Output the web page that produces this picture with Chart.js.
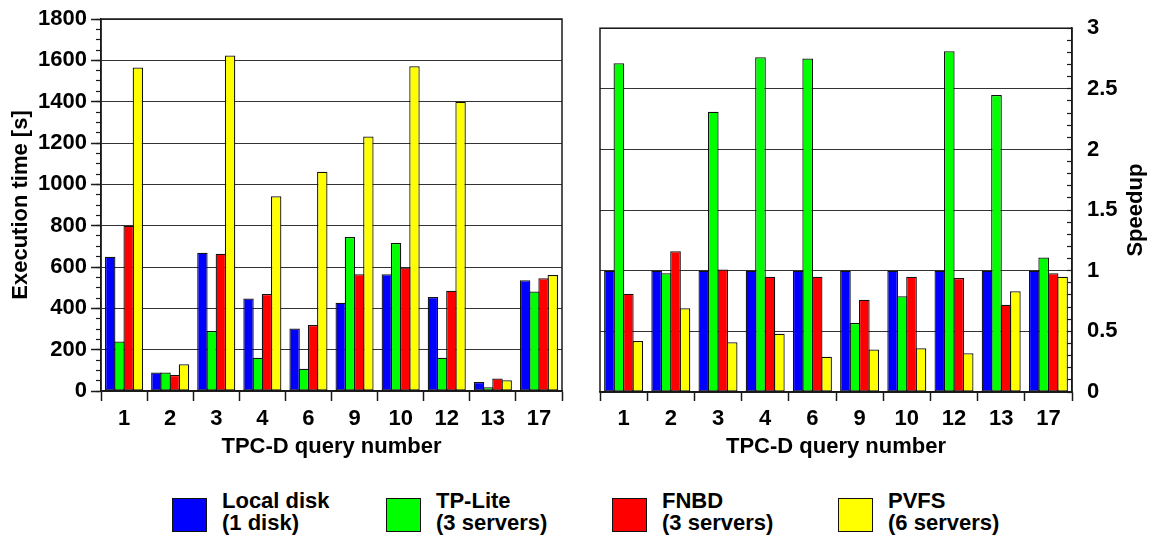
<!DOCTYPE html>
<html>
<head>
<meta charset="utf-8">
<title>TPC-D query execution time and speedup</title>
<script src="https://cdn.jsdelivr.net/npm/chart.js@4/dist/chart.umd.min.js"></script>
<style>
  html, body { margin: 0; padding: 0; background: #fff; }
  #wrap { position: relative; width: 1152px; height: 539px; overflow: hidden;
          font-family: 'Liberation Sans', Arial, Helvetica, sans-serif; font-weight: bold; }
  canvas { position: absolute; top: 0; }
  #timeChart { left: 0; }
  #speedChart { left: 576px; }
  .key { position: absolute; top: 498px; width: 35px; height: 34px; box-sizing: border-box;
         border: 1.5px solid #111; }
  .keyText { position: absolute; top: 490px; font-size: 22px; line-height: 22px; color: #000;
             white-space: nowrap; }
</style>
</head>
<body>
<div id="wrap">
  <canvas id="timeChart" width="580" height="470"></canvas>
  <canvas id="speedChart" width="576" height="470"></canvas>
  <div id="legend"></div>
</div>
<script>
// TPC-D queries on the x axis
const queries = ['1', '2', '3', '4', '6', '9', '10', '12', '13', '17'];

// Storage configurations
const seriesNames  = ['Local disk', 'TP-Lite', 'FNBD', 'PVFS'];
const seriesNotes  = ['(1 disk)', '(3 servers)', '(3 servers)', '(6 servers)'];
const seriesColors = ['#0000ff', '#00ff00', '#ff0000', '#ffff00'];

// Execution time [s]
const timeLocal  = [650, 89, 669, 447, 303, 427, 565, 455, 44, 536];
const timeTpLite = [239, 90, 290, 161, 108, 745, 716, 161, 18, 482];
const timeFnbd   = [800, 77, 664, 469, 319, 565, 597, 485, 61, 545];
const timePvfs   = [1565, 129, 1623, 942, 1061, 1231, 1571, 1400, 52, 561];

// Speedup relative to the local disk
const speedLocal  = [1, 1, 1, 1, 1, 1, 1, 1, 1, 1];
const speedTpLite = [2.71, 0.98, 2.31, 2.76, 2.75, 0.57, 0.79, 2.81, 2.45, 1.11];
const speedFnbd   = [0.81, 1.16, 1.01, 0.95, 0.95, 0.76, 0.95, 0.94, 0.72, 0.98];
const speedPvfs   = [0.42, 0.69, 0.41, 0.48, 0.29, 0.35, 0.36, 0.32, 0.83, 0.95];

// Axis ranges and tick steps
const timeMax = 1800, timeStep = 200, timeMinorStep = 50;
const speedMax = 3, speedStep = 0.5, speedMinorStep = 0.1;

const FONT_FAMILY = "'Liberation Sans', Arial, Helvetica, sans-serif";
const TICK_FONT  = { family: FONT_FAMILY, size: 22, weight: 'bold' };
const TITLE_FONT = { family: FONT_FAMILY, size: 22, weight: 'bold' };
const AXIS = '#1a1a1a';
const GRID = '#333333';

// Plain numbers, no thousands separators or forced decimals
const plainLabel = v => String(Math.round(v * 10) / 10);

function makeDatasets(seriesValues) {
  return seriesValues.map((values, i) => ({
    label: seriesNames[i],
    data: values,
    backgroundColor: seriesColors[i],
    borderColor: '#111',
    borderWidth: 1.25,
    borderSkipped: false,
    categoryPercentage: 0.8,
    barPercentage: 1.13
  }));
}

// Box round the plot area
const plotFrame = {
  id: 'plotFrame',
  afterDraw(chart) {
    const { ctx, chartArea: a } = chart;
    ctx.save();
    ctx.strokeStyle = AXIS;
    ctx.lineWidth = 1.5;
    ctx.strokeRect(a.left, a.top, a.right - a.left, a.bottom - a.top);
    ctx.restore();
  }
};

// Right-hand axis title, read bottom to top
const speedupTitle = {
  id: 'speedupTitle',
  afterDraw(chart) {
    const { ctx, chartArea: a } = chart;
    ctx.save();
    ctx.translate(560, (a.top + a.bottom) / 2);
    ctx.rotate(-Math.PI / 2);
    ctx.font = 'bold 22px ' + FONT_FAMILY;
    ctx.fillStyle = '#000';
    ctx.textAlign = 'center';
    ctx.textBaseline = 'middle';
    ctx.fillText('Speedup', 0, 0);
    ctx.restore();
  }
};

function xAxis(height, tickLen) {
  return {
    type: 'category',
    offset: true,
    grid: { offset: true, drawOnChartArea: false, drawTicks: true, tickLength: tickLen,
            tickColor: AXIS, tickWidth: 1.5 },
    border: { display: true, color: AXIS, width: 1.5 },
    ticks: { color: '#000', font: TICK_FONT, padding: 5, maxRotation: 0, autoSkip: false },
    title: { display: true, text: 'TPC-D query number', color: '#000', font: TITLE_FONT,
             padding: { top: 4, bottom: 10 } },
    afterFit(s) { s.height = height; }
  };
}

const baseOptions = {
  responsive: false,
  animation: false,
  devicePixelRatio: 1,
  events: [],
  plugins: { legend: { display: false }, tooltip: { enabled: false } }
};

// Execution time chart
new Chart(document.getElementById('timeChart'), {
  type: 'bar',
  data: { labels: queries, datasets: makeDatasets([timeLocal, timeTpLite, timeFnbd, timePvfs]) },
  options: Object.assign({}, baseOptions, {
    layout: { padding: { left: 0, right: 18, top: 19, bottom: 0 } },
    scales: {
      x: xAxis(79, 10),
      y: {
        position: 'left', weight: 1, min: 0, max: timeMax,
        ticks: { stepSize: timeStep, color: '#000', font: TICK_FONT, padding: 4, autoSkip: false,
                 callback: plainLabel },
        grid: { color: GRID, lineWidth: 1, tickLength: 10, tickColor: AXIS, tickWidth: 1.5 },
        border: { display: true, color: AXIS, width: 1.5 },
        title: { display: true, text: 'Execution time [s]', color: '#000', font: TITLE_FONT,
                 padding: { top: 8, bottom: 4 } },
        afterFit(s) { s.width = 101; }
      },
      yMinor: {
        position: 'left', weight: 0, min: 0, max: timeMax,
        ticks: { display: false, stepSize: timeMinorStep },
        grid: { drawOnChartArea: false, tickLength: 5, tickColor: AXIS, tickWidth: 1.2 },
        border: { display: false },
        afterFit(s) { s.width = 0; }
      }
    }
  }),
  plugins: [plotFrame]
});

// Speedup chart
new Chart(document.getElementById('speedChart'), {
  type: 'bar',
  data: { labels: queries, datasets: makeDatasets([speedLocal, speedTpLite, speedFnbd, speedPvfs]) },
  options: Object.assign({}, baseOptions, {
    layout: { padding: { left: 24, right: 0, top: 19, bottom: 0 } },
    scales: {
      x: xAxis(78, 9),
      y: {
        position: 'right', weight: 1, min: 0, max: speedMax,
        ticks: { stepSize: speedStep, color: '#000', font: TICK_FONT, padding: 15, autoSkip: false,
                 callback: plainLabel },
        grid: { color: GRID, lineWidth: 1, drawTicks: false },
        border: { display: true, color: AXIS, width: 1.5 },
        afterFit(s) { s.width = 80; }
      },
      yMinor: {
        position: 'right', weight: 0, min: 0, max: speedMax,
        ticks: { display: false, stepSize: speedMinorStep },
        grid: { drawOnChartArea: false, tickLength: -5, tickColor: AXIS, tickWidth: 1.2 },
        border: { display: false },
        afterFit(s) { s.width = 0; }
      }
    }
  }),
  plugins: [plotFrame, speedupTitle]
});

// Legend below both charts
const legendLeft = [172, 386, 612, 838];
const legend = document.getElementById('legend');
seriesNames.forEach((name, i) => {
  const box = document.createElement('div');
  box.className = 'key';
  box.style.left = legendLeft[i] + 'px';
  box.style.background = seriesColors[i];
  legend.appendChild(box);
  const txt = document.createElement('div');
  txt.className = 'keyText';
  txt.style.left = (legendLeft[i] + 50) + 'px';
  txt.innerHTML = name + '<br>' + seriesNotes[i];
  legend.appendChild(txt);
});
</script>
</body>
</html>
